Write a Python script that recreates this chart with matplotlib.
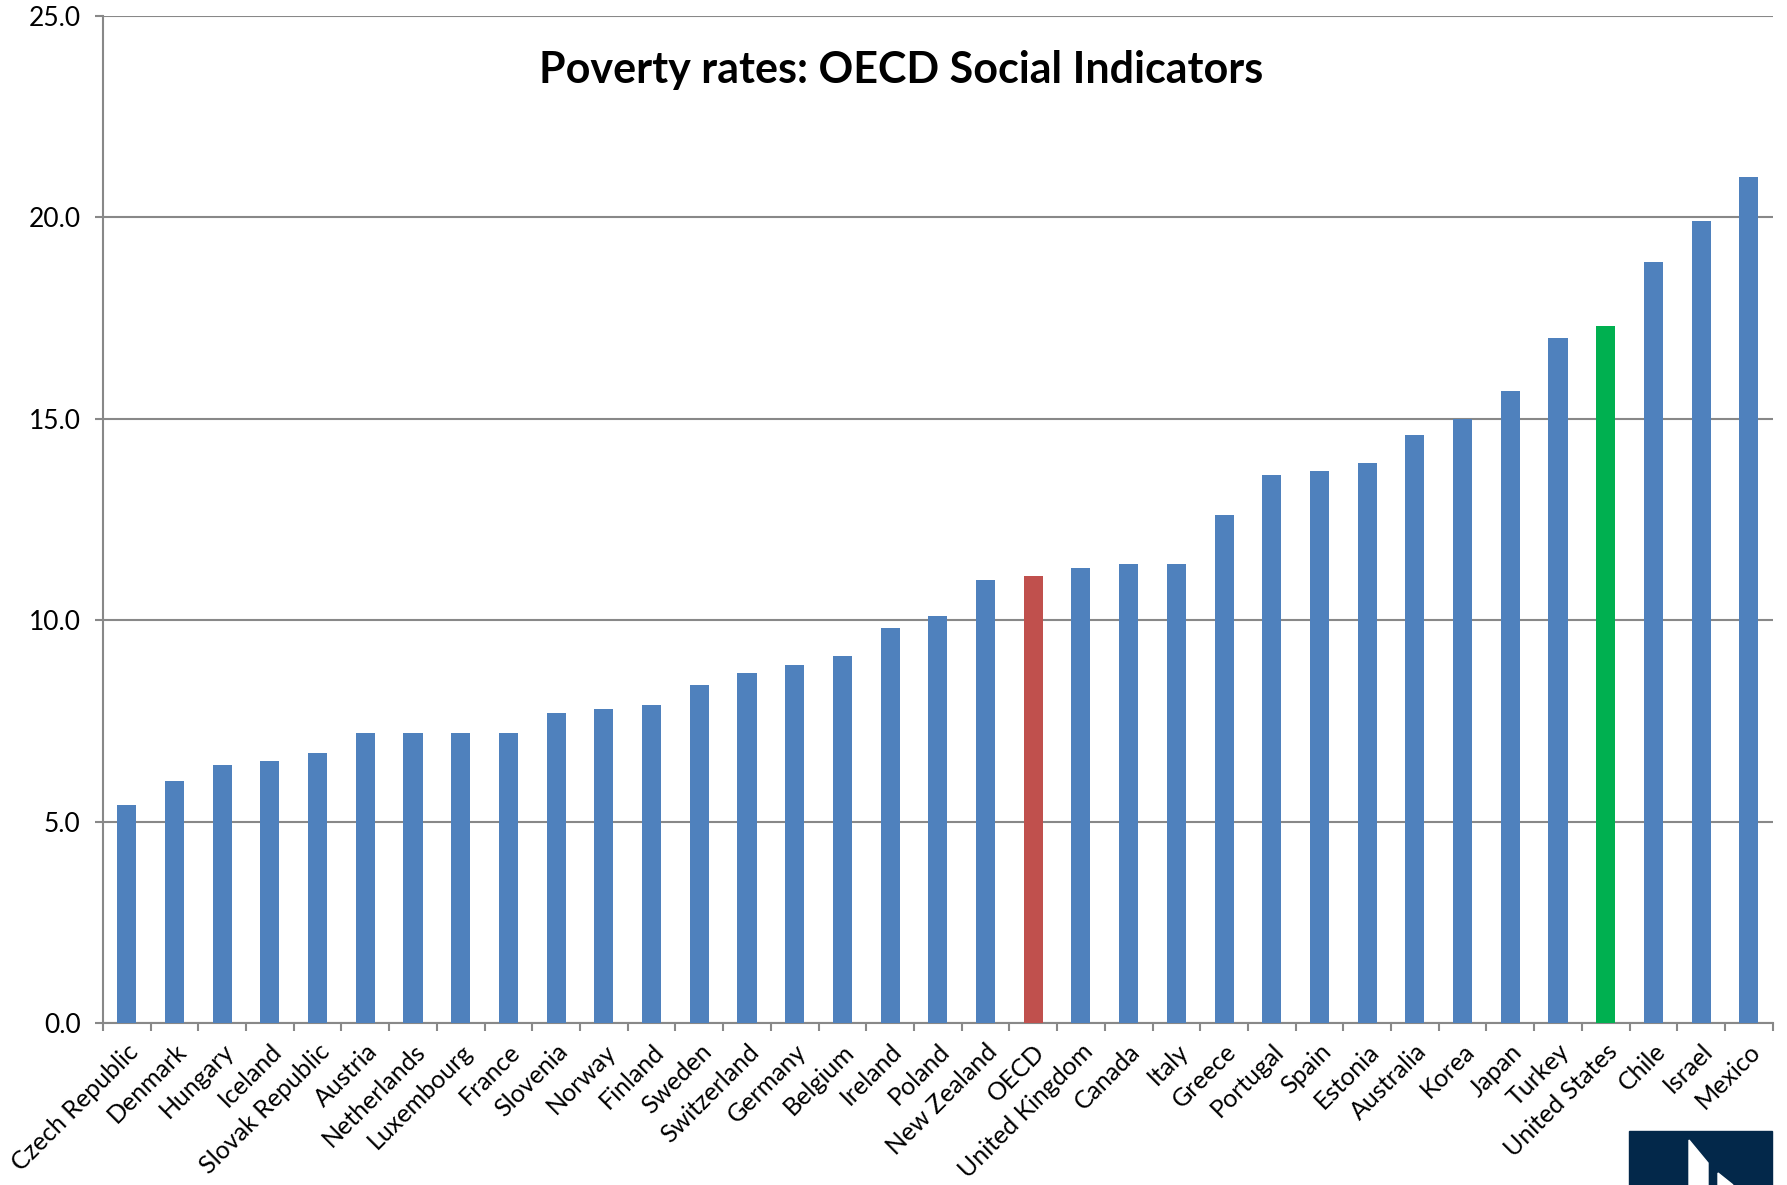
import matplotlib.pyplot as plt
import numpy as np
from matplotlib.patches import Rectangle, Polygon

countries = ['Czech Republic', 'Denmark', 'Hungary', 'Iceland', 'Slovak Republic',
             'Austria', 'Netherlands', 'Luxembourg', 'France', 'Slovenia', 'Norway',
             'Finland', 'Sweden', 'Switzerland', 'Germany', 'Belgium', 'Ireland',
             'Poland', 'New Zealand', 'OECD', 'United Kingdom', 'Canada', 'Italy',
             'Greece', 'Portugal', 'Spain', 'Estonia', 'Australia', 'Korea', 'Japan',
             'Turkey', 'United States', 'Chile', 'Israel', 'Mexico']
rates = [5.4, 6.0, 6.4, 6.5, 6.7,
         7.2, 7.2, 7.2, 7.2, 7.7, 7.8,
         7.9, 8.4, 8.7, 8.9, 9.1, 9.8,
         10.1, 11.0, 11.1, 11.3, 11.4, 11.4,
         12.6, 13.6, 13.7, 13.9, 14.6, 15.0, 15.7,
         17.0, 17.3, 18.9, 19.9, 21.0]
highlight = {'OECD': '#C0504D', 'United States': '#00B050'}

plt.rcParams['font.family'] = ['Lato', 'DejaVu Sans']

fig = plt.figure(figsize=(17.87, 11.85), dpi=100)
ax = fig.add_axes([0.0576, 0.1367, 0.9344, 0.8498])

x = np.arange(len(countries))
colors = [highlight.get(c, '#4F81BD') for c in countries]
ax.bar(x, rates, width=0.4, color=colors, zorder=3)

ax.set_xlim(-0.5, len(countries) - 0.5)
ax.set_ylim(0, 25)
ax.set_yticks(np.arange(0, 25.1, 5))
ax.set_yticklabels([f'{v:.1f}' for v in np.arange(0, 25.1, 5)], fontsize=19)
ax.yaxis.grid(True, color='#888888', linewidth=1.5, zorder=0)

ax.set_xticks(x)
ax.set_xticklabels(countries, rotation=45, ha='right', rotation_mode='anchor', fontsize=18)
ax.set_xticks(np.arange(-0.5, len(countries), 1), minor=True)
ax.tick_params(axis='x', which='major', length=0, pad=12)
ax.tick_params(axis='x', which='minor', length=6, width=1.5, color='#888888')
ax.tick_params(axis='y', length=6, width=1.5, color='#888888', pad=10)

for side in ['top', 'right']:
    ax.spines[side].set_visible(False)
for side in ['left', 'bottom']:
    ax.spines[side].set_color('#888888')
    ax.spines[side].set_linewidth(1.5)

fig.text(0.504, 0.941, 'Poverty rates: OECD Social Indicators', ha='center', va='center',
         fontsize=31, fontweight='bold')

# logo block, bottom right
W, H = 1787, 1185
fig.patches.append(Rectangle((1629 / W, 0), 143 / W, 54 / H, transform=fig.transFigure,
                             color='#03284A', zorder=5))
fig.patches.append(Polygon([(1689 / W, 0), (1689 / W, 45 / H),
                            (1708 / W, 22 / H), (1708 / W, 0)],
                           transform=fig.transFigure, color='white', zorder=6))
fig.patches.append(Polygon([(1718 / W, 0), (1718 / W, 12 / H), (1733 / W, 0)],
                           transform=fig.transFigure, color='white', zorder=6))

fig.savefig('out.png', dpi=100)
